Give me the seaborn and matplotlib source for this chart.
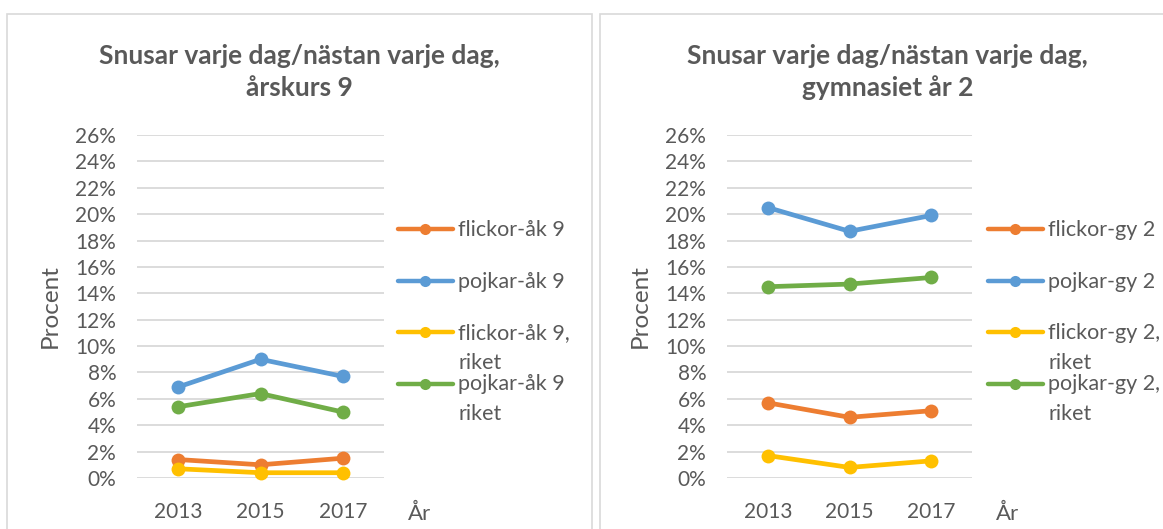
import pandas as pd
import numpy as np
import seaborn as sns
import matplotlib.pyplot as plt
from matplotlib.lines import Line2D
from matplotlib.patches import Rectangle
from matplotlib.ticker import MultipleLocator, FuncFormatter

# Data (percent)
years = ['2013', '2015', '2017']

series_ak9 = ['flickor-åk 9', 'pojkar-åk 9', 'flickor-åk 9,\nriket', 'pojkar-åk 9\nriket']
flickor_ak9 = [1.4, 1.0, 1.5]
pojkar_ak9 = [6.9, 9.0, 7.7]
flickor_ak9_riket = [0.7, 0.4, 0.4]
pojkar_ak9_riket = [5.4, 6.4, 5.0]

series_gy2 = ['flickor-gy 2', 'pojkar-gy 2', 'flickor-gy 2,\nriket', 'pojkar-gy 2,\nriket']
flickor_gy2 = [5.7, 4.6, 5.1]
pojkar_gy2 = [20.5, 18.7, 19.9]
flickor_gy2_riket = [1.7, 0.8, 1.3]
pojkar_gy2_riket = [14.5, 14.7, 15.2]

titles = ['Snusar varje dag/nästan varje dag,\nårskurs 9',
          'Snusar varje dag/nästan varje dag,\ngymnasiet år 2']
colors = ['#ED7D31', '#5B9BD5', '#FFC000', '#70AD47']


def long_df(names, values):
    rows = []
    for name, vals in zip(names, values):
        for yr, v in zip(years, vals):
            rows.append({'År': yr, 'Procent': v, 'serie': name})
    return pd.DataFrame(rows)


panels = [
    long_df(series_ak9, [flickor_ak9, pojkar_ak9, flickor_ak9_riket, pojkar_ak9_riket]),
    long_df(series_gy2, [flickor_gy2, pojkar_gy2, flickor_gy2_riket, pojkar_gy2_riket]),
]
names = [series_ak9, series_gy2]

sns.set_style('white')
plt.rcParams['font.family'] = ['Lato', 'DejaVu Sans']

W, H = 1163, 529
fig = plt.figure(figsize=(W / 100, H / 100), dpi=100)

text_col = '#595959'
grid_col = '#d9d9d9'

box_left = [7, 600]
box_right = [592, 1200]
ax_left = [137, 727]
ax_width = [247, 245]
ax_top, ax_bottom = 135, 478


def fx(x):
    return x / W


def fy(y):
    return 1 - y / H


for i in range(2):
    # panel frame
    fig.add_artist(Rectangle((fx(box_left[i]), fy(540)), fx(box_right[i] - box_left[i]), (540 - 14) / H,
                             transform=fig.transFigure, fill=False, edgecolor=grid_col, lw=1.2))

    ax = fig.add_axes([fx(ax_left[i]), fy(ax_bottom), ax_width[i] / W, (ax_bottom - ax_top) / H])
    sns.lineplot(data=panels[i], x='År', y='Procent', hue='serie', palette=colors,
                 marker='o', markersize=10, markeredgewidth=0, linewidth=3.4,
                 legend=False, ax=ax, clip_on=False)

    ax.set_ylim(0, 26)
    ax.set_xlim(-0.5, 2.5)
    ax.yaxis.set_major_locator(MultipleLocator(2))
    ax.yaxis.set_major_formatter(FuncFormatter(lambda v, p: f'{v:.0f}%'))
    ax.grid(axis='y', color=grid_col, lw=1.3)
    ax.set_axisbelow(True)
    for s in ax.spines.values():
        s.set_visible(False)
    ax.tick_params(axis='both', length=0, labelsize=15, colors=text_col)
    ax.tick_params(axis='x', pad=17.5)
    ax.tick_params(axis='y', pad=15)
    ax.set_xlabel('')
    ax.set_ylabel('Procent', fontsize=17.5, color=text_col)
    ax.yaxis.set_label_coords(-0.31, 0.5)

    # axis title at the end of the category axis
    fig.text(fx(ax_left[i] + ax_width[i] + 36), fy(514), 'År', fontsize=16, color=text_col,
             ha='center', va='center')

    # chart title
    cx = (box_left[i] + (box_right[i] if i == 0 else 1175)) / 2
    fig.text(fx(cx), fy(72), titles[i], fontsize=19, fontweight='bold', color=text_col,
             ha='center', va='center', linespacing=1.36)

    # legend drawn to the right, Excel style (marker aligned with first text line)
    for k, (name, col) in enumerate(zip(names[i], colors)):
        y = 229 + k * 51.5
        x0 = ax_left[i] + 261
        fig.add_artist(Line2D([fx(x0), fx(x0 + 55)], [fy(y), fy(y)], transform=fig.transFigure,
                              color=col, lw=3.2, solid_capstyle='round'))
        fig.add_artist(Line2D([fx(x0 + 27)], [fy(y)], transform=fig.transFigure,
                              color=col, marker='o', markersize=8, markeredgewidth=0))
        fig.text(fx(x0 + 60), fy(y - 9), name, fontsize=15.5, color=text_col,
                 ha='left', va='top', linespacing=1.62)

fig.savefig('out.png', dpi=100)
